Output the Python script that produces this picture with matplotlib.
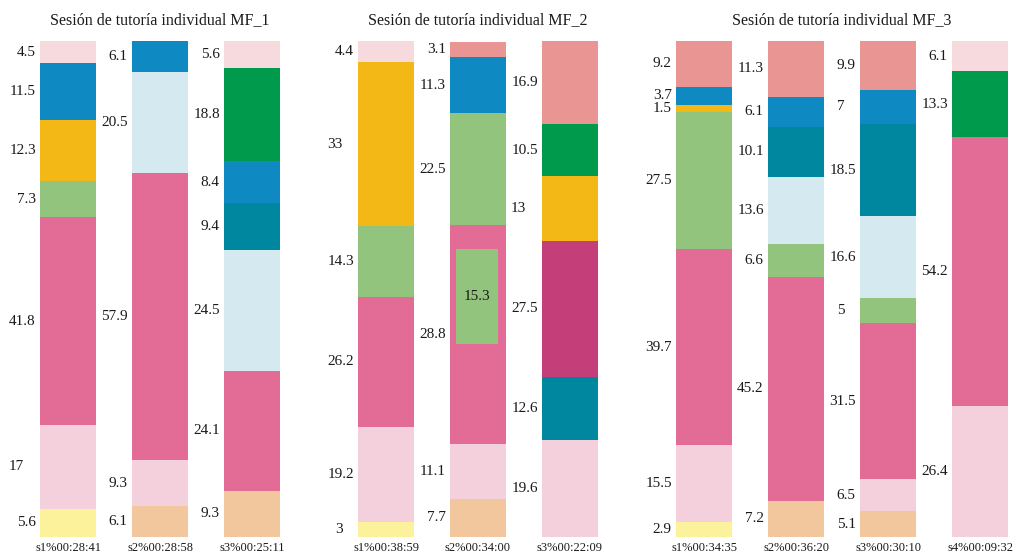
import matplotlib
matplotlib.use("Agg")
import matplotlib.pyplot as plt

plt.rcParams['font.family'] = ['Liberation Serif', 'DejaVu Serif']

# ---- data ----
panel_titles = ["Sesión de tutoría individual MF_1",
                "Sesión de tutoría individual MF_2",
                "Sesión de tutoría individual MF_3"]

mf1_sessions = ["s1%00:28:41", "s2%00:28:58", "s3%00:25:11"]
mf2_sessions = ["s1%00:38:59", "s2%00:34:00", "s3%00:22:09"]
mf3_sessions = ["s1%00:34:35", "s2%00:36:20", "s3%00:30:10", "s4%00:09:32"]

# categories of each segment, bottom to top
mf1_cats = [["A", "B", "C", "D", "E", "F", "G"],
            ["H", "B", "C", "I", "F"],
            ["H", "C", "I", "J", "F", "K", "G"]]
mf1_vals = [[5.6, 17, 41.8, 7.3, 12.3, 11.5, 4.5],
            [6.1, 9.3, 57.9, 20.5, 6.1],
            [9.3, 24.1, 24.5, 9.4, 8.4, 18.8, 5.6]]

mf2_cats = [["A", "B", "C", "D", "E", "G"],
            ["H", "B", "C", "D", "F", "L"],
            ["B", "J", "M", "E", "K", "L"]]
mf2_vals = [[3, 19.2, 26.2, 14.3, 33, 4.4],
            [7.7, 11.1, 28.8, 22.5, 11.3, 3.1],
            [19.6, 12.6, 27.5, 13, 10.5, 16.9]]

# nested segment drawn inside a parent segment: (panel, bar, parent index, category, value)
nested = [(1, 1, 2, "D", 15.3)]

mf3_cats = [["A", "B", "C", "D", "E", "F", "L"],
            ["H", "C", "D", "I", "J", "F", "L"],
            ["H", "B", "C", "D", "I", "J", "F", "L"],
            ["B", "C", "K", "G"]]
mf3_vals = [[2.9, 15.5, 39.7, 27.5, 1.5, 3.7, 9.2],
            [7.2, 45.2, 6.6, 13.6, 10.1, 6.1, 11.3],
            [5.1, 6.5, 31.5, 5, 16.6, 18.5, 7, 9.9],
            [26.4, 54.2, 13.3, 6.1]]

colors = {
    "A": "#FBF29B", "B": "#F3D0DC", "C": "#E36C96", "D": "#93C47D",
    "E": "#F3B816", "F": "#0E89C1", "G": "#F6DADD", "H": "#F3C79D",
    "I": "#D4E9F0", "J": "#0087A0", "K": "#009A4D", "L": "#E99594",
    "M": "#C43E7A",
}

panels = [(mf1_sessions, mf1_cats, mf1_vals),
          (mf2_sessions, mf2_cats, mf2_vals),
          (mf3_sessions, mf3_cats, mf3_vals)]

# ---- layout ----
W, H = 1018, 553
fig = plt.figure(figsize=(W / 100, H / 100), dpi=100)
bar_w = 56 / 92
step_px = 92
lefts_px = [40, 358, 676]
bottom_px, top_px = 536.7, 41
LBL_FS = 11
TXT = "#1a1a1a"

for p, (sessions, cats, vals) in enumerate(panels):
    n = len(sessions)
    width_px = step_px * (n - 1) + 56
    ax = fig.add_axes([lefts_px[p] / W, (H - bottom_px) / H,
                       width_px / W, (bottom_px - top_px) / H])
    ax.set_xlim(-bar_w / 2, n - 1 + bar_w / 2)
    ax.set_ylim(0, 100)
    for i in range(n):
        seg_vals = list(vals[i])
        nest_here = [t for t in nested if t[0] == p and t[1] == i]
        draw_vals = seg_vals[:]
        for t in nest_here:
            draw_vals[t[2]] += t[4]
        bottom = 0
        for j, (c, v) in enumerate(zip(cats[i], draw_vals)):
            ax.bar(i, v, bottom=bottom, width=bar_w, color=colors[c],
                   linewidth=0)
            # integers are placed as if they had a decimal part
            is_int = float(seg_vals[j]).is_integer()
            off = -3 - (0.75 * LBL_FS if is_int else 0)
            ax.annotate(f"{seg_vals[j]:g}", xy=(i - bar_w / 2, bottom + v / 2),
                        xytext=(off, 0), textcoords="offset points",
                        ha="right", va="center", fontsize=LBL_FS, color=TXT)
            for t in nest_here:
                if t[2] == j:
                    in_top = bottom + v * 0.89
                    in_h = v * 0.435
                    ax.bar(i - bar_w * 0.014, in_h, bottom=in_top - in_h,
                           width=bar_w * 0.74, color=colors[t[3]], linewidth=0)
                    ax.text(i - bar_w * 0.014, in_top - in_h / 2, f"{t[4]:g}",
                            ha="center", va="center", fontsize=LBL_FS,
                            color=TXT)
            bottom += v
    ax.set_xticks(range(n))
    ax.set_xticklabels(sessions, fontsize=9, color=TXT)
    ax.tick_params(axis="x", length=0, pad=3.5)
    ax.set_yticks([])
    for s in ax.spines.values():
        s.set_visible(False)
    ax.set_title(panel_titles[p], fontsize=11.5, pad=12.5, color=TXT)

fig.savefig("out.png", dpi=100)
